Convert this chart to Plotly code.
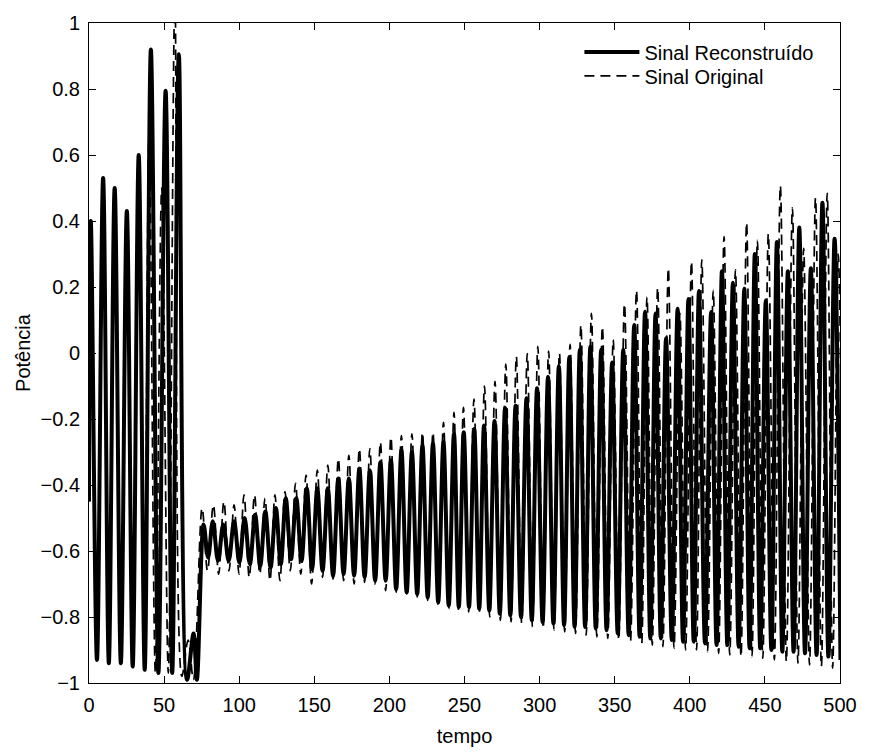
import plotly.graph_objects as go

# ---------------- data ----------------
# Sinal Reconstruído: initial large oscillations (extrema)
rec_early_t = [0, 1.2, 5.3, 9.4, 13.2, 17.1, 21.2, 25.2, 29.1, 33.1, 37.1, 41.2,
               46.2, 51.0, 55.4, 59.8, 65.3, 69.6, 71.8]
rec_early_v = [-0.45, 0.40, -0.93, 0.53, -0.94, 0.50, -0.94, 0.43, -0.95, 0.60, -0.96, 0.92,
               -0.97, 0.795, -0.97, 0.905, -0.99, -0.85, -0.99]

# Sinal Reconstruído: later oscillation peaks
rec_peak_t = [76.3, 82.4, 89.4, 96.6, 103.6, 110.6, 117.4, 124.4, 131, 138,
              145, 152, 159, 166, 173, 180, 187, 194, 201, 208,
              215, 222, 229, 236, 243, 249.5, 256.5, 263, 270, 277,
              284, 291.3, 298.3, 305.6, 312.8, 319.8, 326.8, 333.8, 341, 348.3,
              355.7, 363, 370.2, 377.2, 384.2, 391.9, 399.1, 406.1, 414.2, 421.4,
              428.7, 436.3, 443.3, 450.6, 458, 465.3, 472.9, 480.6, 488.3, 496.4]
rec_peak_v = [-0.52, -0.51, -0.52, -0.51, -0.50, -0.49, -0.48, -0.47, -0.44, -0.44,
              -0.41, -0.41, -0.41, -0.38, -0.38, -0.35, -0.355, -0.33, -0.325, -0.295,
              -0.30, -0.28, -0.275, -0.27, -0.245, -0.24, -0.23, -0.22, -0.206, -0.167,
              -0.16, -0.137, -0.107, -0.073, -0.04, -0.012, 0.01, 0.02, 0.01, -0.029,
              0.01, 0.085, 0.125, 0.12, 0.045, 0.134, 0.164, 0.188, 0.124, 0.248,
              0.213, 0.195, 0.30, 0.159, 0.336, 0.248, 0.38, 0.257, 0.455, 0.346]

# Sinal Reconstruído: later oscillation troughs
rec_trough_t = [79.3, 85.9, 93, 100.1, 107.1, 114, 120.9, 127.7, 134.5, 141.5,
                148.5, 155.5, 162.5, 169.5, 176.5, 183.5, 190.5, 197.5, 204.5, 211.5,
                218.5, 225.5, 232.5, 239.5, 246.2, 253, 259.8, 266.5, 273.5, 280.5,
                287.6, 294.8, 302, 309.2, 316.3, 323.3, 330.3, 337.4, 344.6, 352,
                359.3, 366.6, 373.7, 380.7, 388, 395.5, 402.6, 410.1, 417.8, 425,
                432.5, 439.8, 446.9, 454.3, 461.6, 469.1, 476.7, 484.4, 492.3, 500.3]
rec_trough_v = [-0.62, -0.63, -0.63, -0.635, -0.64, -0.645, -0.65, -0.64, -0.625, -0.63,
                -0.655, -0.66, -0.675, -0.67, -0.675, -0.68, -0.69, -0.69, -0.715, -0.725,
                -0.73, -0.74, -0.755, -0.765, -0.77, -0.77, -0.775, -0.78, -0.79, -0.795,
                -0.80, -0.81, -0.815, -0.82, -0.825, -0.83, -0.83, -0.835, -0.84, -0.85,
                -0.855, -0.86, -0.865, -0.865, -0.87, -0.875, -0.875, -0.88, -0.885, -0.885,
                -0.89, -0.895, -0.895, -0.90, -0.905, -0.905, -0.91, -0.915, -0.92, -0.93]

# Sinal Original: initial large oscillations (extrema)
org_early_t = [0, 1.2, 5.3, 9.4, 13.2, 17.1, 21.2, 25.2, 29.1, 33.1, 36.8, 40.0,
               44.2, 48.4, 52.8, 57.2, 61.8, 66.0, 69.5]
org_early_v = [-0.45, 0.40, -0.93, 0.53, -0.94, 0.50, -0.94, 0.43, -0.95, 0.60, -0.96, 0.66,
               -0.97, 0.50, -0.97, 1.08, -0.98, -0.87, -0.99]

# Sinal Original: later oscillation peaks
org_peak_t = [75.3, 82.8, 89.8, 96.6, 103.2, 110.2, 117.2, 123.8, 130.5, 137.5,
              144.5, 152, 159, 166, 173, 180, 187, 194, 201, 208,
              215, 222, 229, 236, 243, 249.3, 256.3, 263.3, 270.3, 277.5,
              284.5, 291.8, 298.8, 306, 313.2, 320.3, 327.5, 334.5, 341.8, 349,
              356.5, 364.5, 371.5, 378.6, 385.7, 393.4, 401.1, 408, 415.6, 422.8,
              430.4, 437.8, 445, 452.3, 460.3, 468.3, 475.8, 483.7, 491.5, 498.8]
org_peak_v = [-0.47, -0.46, -0.45, -0.46, -0.43, -0.43, -0.44, -0.43, -0.42, -0.395,
              -0.37, -0.355, -0.34, -0.32, -0.31, -0.29, -0.29, -0.27, -0.255, -0.25,
              -0.245, -0.24, -0.24, -0.21, -0.18, -0.165, -0.14, -0.10, -0.086, -0.034,
              -0.01, -0.002, 0.02, 0.006, 0.0, 0.026, 0.085, 0.12, 0.08, 0.04,
              0.149, 0.19, 0.17, 0.198, 0.257, 0.12, 0.277, 0.282, 0.19, 0.353,
              0.252, 0.395, 0.341, 0.361, 0.507, 0.44, 0.317, 0.47, 0.484, 0.30]

# Sinal Original: later oscillation troughs
org_trough_t = [78.9, 86.3, 93.2, 99.9, 106.7, 113.7, 120.5, 127.1, 134, 141,
                148.2, 155.5, 162.5, 169.5, 176.5, 183.5, 190.5, 197.5, 204.5, 211.5,
                218.5, 225.5, 232.5, 239.5, 246.1, 252.8, 259.8, 266.8, 273.9, 281,
                288.1, 295.3, 302.4, 309.6, 316.7, 323.9, 331, 338.1, 345.4, 352.7,
                360.5, 368, 375, 382.1, 389.5, 397.2, 404.5, 411.8, 419.2, 426.6,
                434.1, 441.4, 448.6, 456.3, 464.3, 472, 479.7, 487.6, 495.1, 502.5]
org_trough_v = [-0.66, -0.67, -0.66, -0.67, -0.68, -0.67, -0.69, -0.69, -0.66, -0.67,
                -0.70, -0.68, -0.685, -0.69, -0.70, -0.695, -0.70, -0.72, -0.725, -0.73,
                -0.74, -0.75, -0.77, -0.775, -0.78, -0.785, -0.79, -0.80, -0.81, -0.815,
                -0.82, -0.83, -0.835, -0.84, -0.845, -0.85, -0.855, -0.86, -0.865, -0.87,
                -0.875, -0.88, -0.885, -0.89, -0.895, -0.90, -0.90, -0.905, -0.91, -0.915,
                -0.92, -0.92, -0.925, -0.93, -0.935, -0.94, -0.945, -0.95, -0.955, -0.96]

x_ticks = [0, 50, 100, 150, 200, 250, 300, 350, 400, 450, 500]
y_ticks = [-1, -0.8, -0.6, -0.4, -0.2, 0, 0.2, 0.4, 0.6, 0.8, 1]
y_tick_labels = ["\u22121", "\u22120.8", "\u22120.6", "\u22120.4", "\u22120.2", "0",
                 "0.2", "0.4", "0.6", "0.8", "1"]


def merge(*pairs):
    pts = []
    for ts, vs in pairs:
        pts.extend(zip(ts, vs))
    pts.sort(key=lambda p: p[0])
    return [p[0] for p in pts], [p[1] for p in pts]


rec_t, rec_v = merge((rec_early_t, rec_early_v), (rec_peak_t, rec_peak_v),
                     (rec_trough_t, rec_trough_v))
org_t, org_v = merge((org_early_t, org_early_v), (org_peak_t, org_peak_v),
                     (org_trough_t, org_trough_v))

FONT = "Liberation Sans, Arial, Helvetica, sans-serif"

fig = go.Figure()
fig.add_trace(go.Scatter(
    x=rec_t, y=rec_v, mode="lines", name="Sinal Reconstruído", legend="legend",
    line=dict(color="black", width=4, shape="spline", smoothing=1.0),
))
fig.add_trace(go.Scatter(
    x=org_t, y=org_v, mode="lines", name="Sinal Original", legend="legend2",
    line=dict(color="black", width=1.7, dash="10px,6px", shape="spline", smoothing=1.0),
))

axis_common = dict(
    showgrid=False, zeroline=False, showline=True, linecolor="black", linewidth=1,
    mirror="ticks", ticks="inside", ticklen=7, tickcolor="black", tickwidth=1,
    tickfont=dict(family=FONT, size=20, color="black"),
    ticklabelstandoff=4,
)

legend_common = dict(
    xanchor="left", yanchor="middle", bgcolor="rgba(0,0,0,0)", borderwidth=0,
    font=dict(family=FONT, size=20, color="black"), itemwidth=55,
)

fig.update_layout(
    width=869, height=755,
    margin=dict(l=89, r=19, t=14, b=65),
    paper_bgcolor="white", plot_bgcolor="white",
    font=dict(family=FONT, size=20, color="black"),
    xaxis=dict(range=[0, 500], tickvals=x_ticks, ticktext=[str(v) for v in x_ticks],
               title=dict(text="tempo", font=dict(family=FONT, size=20), standoff=13),
               **axis_common),
    yaxis=dict(range=[-1, 1], tickvals=y_ticks, ticktext=y_tick_labels,
               title=dict(text="Potência", font=dict(family=FONT, size=20), standoff=4),
               **axis_common),
    legend=dict(x=0.653, y=0.956, **legend_common),
    legend2=dict(x=0.653, y=0.920, **legend_common),
    showlegend=True,
)

fig.write_html("out.html")
